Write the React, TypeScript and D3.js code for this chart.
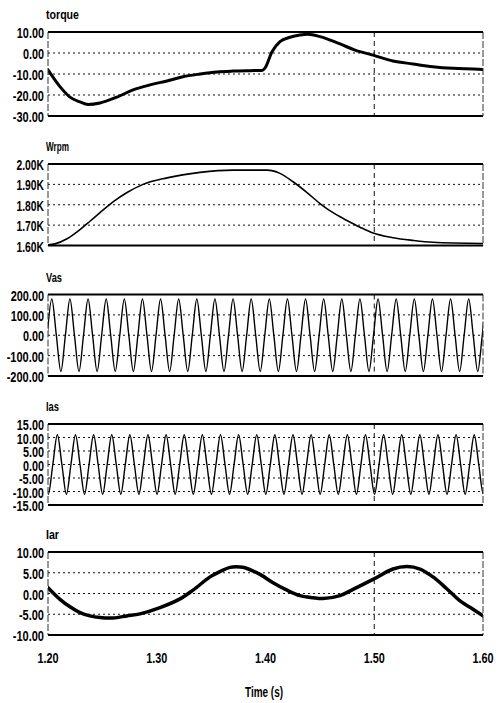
import React from "react";
import * as d3 from "d3";

// ---------- data ----------
const xTicks = [1.2, 1.3, 1.4, 1.5, 1.6];
const xTickLabels = ["1.20", "1.30", "1.40", "1.50", "1.60"];

const torqueT = [1.2, 1.211, 1.2202, 1.2294, 1.2368, 1.2478, 1.2634, 1.2782, 1.2938, 1.3094, 1.3241, 1.3398, 1.3554, 1.3701, 1.3857, 1.3968, 1.3995, 1.406, 1.4133, 1.4225, 1.4317, 1.4391, 1.4501, 1.4685, 1.4823, 1.4989, 1.5172, 1.5356, 1.554, 1.5724, 1.6];
const torqueV = [-8, -16, -21, -23.3, -24.5, -23.8, -21, -17.6, -15.2, -13.3, -11.3, -10, -9, -8.6, -8.4, -8.3, -7.2, 0.6, 5.4, 7.5, 8.6, 8.9, 7.8, 4.3, 1.4, -1, -3.8, -5.2, -6.5, -7.3, -7.8];
const torqueTicks = [10, 0, -10, -20, -30];
const torqueLabels = ["10.00", "0.00", "-10.00", "-20.00", "-30.00"];

const wrpmT = [1.2, 1.2064, 1.2175, 1.2294, 1.2386, 1.2478, 1.2598, 1.2727, 1.2874, 1.3094, 1.3398, 1.3701, 1.3857, 1.4014, 1.4133, 1.4253, 1.4382, 1.4501, 1.4621, 1.4749, 1.4869, 1.4989, 1.5172, 1.5356, 1.554, 1.6];
const wrpmV = [1603, 1608, 1633, 1678, 1719, 1761, 1814, 1860, 1900, 1932, 1959, 1970, 1970, 1970, 1954, 1913, 1860, 1806, 1761, 1723, 1690, 1661, 1638, 1625, 1616, 1610];
const wrpmTicks = [2000, 1900, 1800, 1700, 1600];
const wrpmLabels = ["2.00K", "1.90K", "1.80K", "1.70K", "1.60K"];

// Sampled at quarter-period steps (1/240 s)
const sampleStep = 1 / 240;
const vasStart = 1.19933;
const vasV = [
  0, 178, 0, -178, 0, 178, 0, -178, 0, 178, 0, -178, 0, 178, 0, -178, 0, 178, 0, -178,
  0, 178, 0, -178, 0, 178, 0, -178, 0, 178, 0, -178, 0, 178, 0, -178, 0, 178, 0, -178,
  0, 178, 0, -178, 0, 178, 0, -178, 0, 178, 0, -178, 0, 178, 0, -178, 0, 178, 0, -178,
  0, 178, 0, -178, 0, 178, 0, -178, 0, 178, 0, -178, 0, 178, 0, -178, 0, 178, 0, -178,
  0, 178, 0, -178, 0, 178, 0, -178, 0, 178, 0, -178, 0, 178, 0, -178, 0, 178, 0, -178,
];
const vasTicks = [200, 100, 0, -100, -200];
const vasLabels = ["200.00", "100.00", "0.00", "-100.00", "-200.00"];

const iasStart = 1.1961;
const iasV = [
  0, -11, 0, 11, 0, -11, 0, 11, 0, -11, 0, 11, 0, -11, 0, 11, 0, -11, 0, 11,
  0, -11, 0, 11, 0, -11, 0, 11, 0, -11, 0, 11, 0, -11, 0, 11, 0, -11, 0, 11,
  0, -11, 0, 11, 0, -11, 0, 11, 0, -11, 0, 11, 0, -11, 0, 11, 0, -11, 0, 11,
  0, -11, 0, 11, 0, -11, 0, 11, 0, -11, 0, 11, 0, -11, 0, 11, 0, -11, 0, 11,
  0, -11, 0, 11, 0, -11, 0, 11, 0, -11, 0, 11, 0, -11, 0, 11, 0, -11, 0, 11,
];
const iasTicks = [15, 10, 5, 0, -5, -10, -15];
const iasLabels = ["15.00", "10.00", "5.00", "0.00", "-5.00", "-10.00", "-15.00"];

const iarT = [1.2, 1.211, 1.2202, 1.2294, 1.2386, 1.2478, 1.2598, 1.2726, 1.2846, 1.303, 1.3214, 1.3333, 1.349, 1.3582, 1.3674, 1.3766, 1.3811, 1.3949, 1.4069, 1.4198, 1.4317, 1.4437, 1.4529, 1.4685, 1.4805, 1.4989, 1.5172, 1.5301, 1.5421, 1.554, 1.5669, 1.5789, 1.5908, 1.6];
const iarV = [1.4, -1.4, -3.2, -4.6, -5.4, -5.8, -5.9, -5.4, -4.9, -3.4, -1.3, 0.8, 4, 5.3, 6.3, 6.4, 6.2, 4.6, 2.6, 0.8, -0.5, -1, -1.2, -0.5, 1, 3.4, 5.9, 6.5, 5.9, 4, 1.1, -1.8, -3.8, -5.4];
const iarTicks = [10, 5, 0, -5, -10];
const iarLabels = ["10.00", "5.00", "0.00", "-5.00", "-10.00"];

// ---------- layout ----------
const W = 498;
const H = 703;
const X0 = 48;
const X1 = 483;
const FONT = "'Liberation Sans', Arial, sans-serif";

// condensed width of a numeric label
const numWidth = (s: string) =>
  s.split("").reduce((w, c) => w + (c >= "0" && c <= "9" ? 6.1 : c === "." ? 2.8 : c === "-" ? 4 : 6.5), 0);

const x = d3.scaleLinear().domain([1.2, 1.6]).range([X0, X1]);

type Pt = [number, number];

interface PanelProps {
  id: string;
  title: string;
  titleWidth: number;
  top: number;
  bottom: number;
  ticks: number[];
  labels: string[];
  points: Pt[];
  strokeWidth: number;
  curve: d3.CurveFactory;
}

function Panel({ id, title, titleWidth, top, bottom, ticks, labels, points, strokeWidth, curve }: PanelProps) {
  const ext = d3.extent(ticks) as [number, number];
  const y = d3.scaleLinear().domain(ext).range([bottom, top]);
  const line = d3
    .line<Pt>()
    .x((d) => x(d[0]))
    .y((d) => y(d[1]))
    .curve(curve);
  const inner = ticks.filter((t) => t !== ext[0] && t !== ext[1]);
  return (
    <g>
      <defs>
        <clipPath id={`clip-${id}`}>
          <rect x={X0} y={top - 2} width={X1 - X0} height={bottom - top + 4} />
        </clipPath>
      </defs>
      <text x={X0 - 2} y={top - 13} fontFamily={FONT} fontWeight="bold" fontSize={13} fill="#000"
        textLength={titleWidth} lengthAdjust="spacingAndGlyphs">
        {title}
      </text>
      {inner.map((t) => (
        <line key={`g${t}`} x1={X0} x2={X1} y1={y(t)} y2={y(t)} stroke="#111" strokeWidth={1}
          strokeDasharray="2,3" />
      ))}
      <line x1={x(1.5)} x2={x(1.5)} y1={top} y2={bottom} stroke="#111" strokeWidth={1}
        strokeDasharray="5,4" />
      <g clipPath={`url(#clip-${id})`}>
        <path d={line(points) || ""} fill="none" stroke="#000" strokeWidth={strokeWidth}
          strokeLinejoin="round" strokeLinecap="round" />
      </g>
      {/* frame */}
      <line x1={X0} x2={X0} y1={top} y2={bottom} stroke="#333" strokeWidth={1} strokeDasharray="7,2" />
      <line x1={X1} x2={X1} y1={top} y2={bottom} stroke="#333" strokeWidth={1} strokeDasharray="7,2" />
      <line x1={X0} x2={X1} y1={top} y2={top} stroke="#000" strokeWidth={2} />
      <line x1={X0} x2={X1} y1={bottom} y2={bottom} stroke="#000" strokeWidth={2} />
      {ticks.map((t, i) => (
        <text key={`l${t}`} x={X0 - 4} y={y(t) + 6} fontFamily={FONT} fontWeight="bold" fontSize={15}
          textAnchor="end" fill="#000" textLength={numWidth(labels[i])} lengthAdjust="spacingAndGlyphs">
          {labels[i]}
        </text>
      ))}
    </g>
  );
}

const zip = (ts: number[], vs: number[]): Pt[] => ts.map((t, i) => [t, vs[i]]);
const sampled = (start: number, vs: number[]): Pt[] => vs.map((v, i) => [start + i * sampleStep, v]);

export default function App() {
  const iarBottom = 635;
  return (
    <svg width={W} height={H} style={{ position: "absolute", left: 0, top: 0, background: "#fff" }}>
      <rect x={0} y={0} width={W} height={H} fill="#fff" />
      <Panel id="torque" title="torque" titleWidth={33} top={32} bottom={116} ticks={torqueTicks}
        labels={torqueLabels} points={zip(torqueT, torqueV)} strokeWidth={3} curve={d3.curveMonotoneX} />
      <Panel id="wrpm" title="Wrpm" titleWidth={23} top={164} bottom={245.5} ticks={wrpmTicks}
        labels={wrpmLabels} points={zip(wrpmT, wrpmV)} strokeWidth={1.6} curve={d3.curveMonotoneX} />
      <Panel id="vas" title="Vas" titleWidth={16} top={294.5} bottom={376} ticks={vasTicks}
        labels={vasLabels} points={sampled(vasStart, vasV)} strokeWidth={1.4} curve={d3.curveCardinal} />
      <Panel id="ias" title="Ias" titleWidth={13} top={424} bottom={505} ticks={iasTicks}
        labels={iasLabels} points={sampled(iasStart, iasV)} strokeWidth={1.4} curve={d3.curveCardinal} />
      <Panel id="iar" title="Iar" titleWidth={13} top={552} bottom={iarBottom} ticks={iarTicks}
        labels={iarLabels} points={zip(iarT, iarV)} strokeWidth={3.5} curve={d3.curveCatmullRom} />
      {xTicks.map((t, i) => (
        <text key={t} x={x(t)} y={iarBottom + 28} fontFamily={FONT} fontWeight="bold" fontSize={15}
          textAnchor="middle" fill="#000" textLength={numWidth(xTickLabels[i])} lengthAdjust="spacingAndGlyphs">
          {xTickLabels[i]}
        </text>
      ))}
      <text x={264} y={697} fontFamily={FONT} fontWeight="bold" fontSize={14} textAnchor="middle" fill="#000"
        textLength={38} lengthAdjust="spacingAndGlyphs">
        Time (s)
      </text>
    </svg>
  );
}
